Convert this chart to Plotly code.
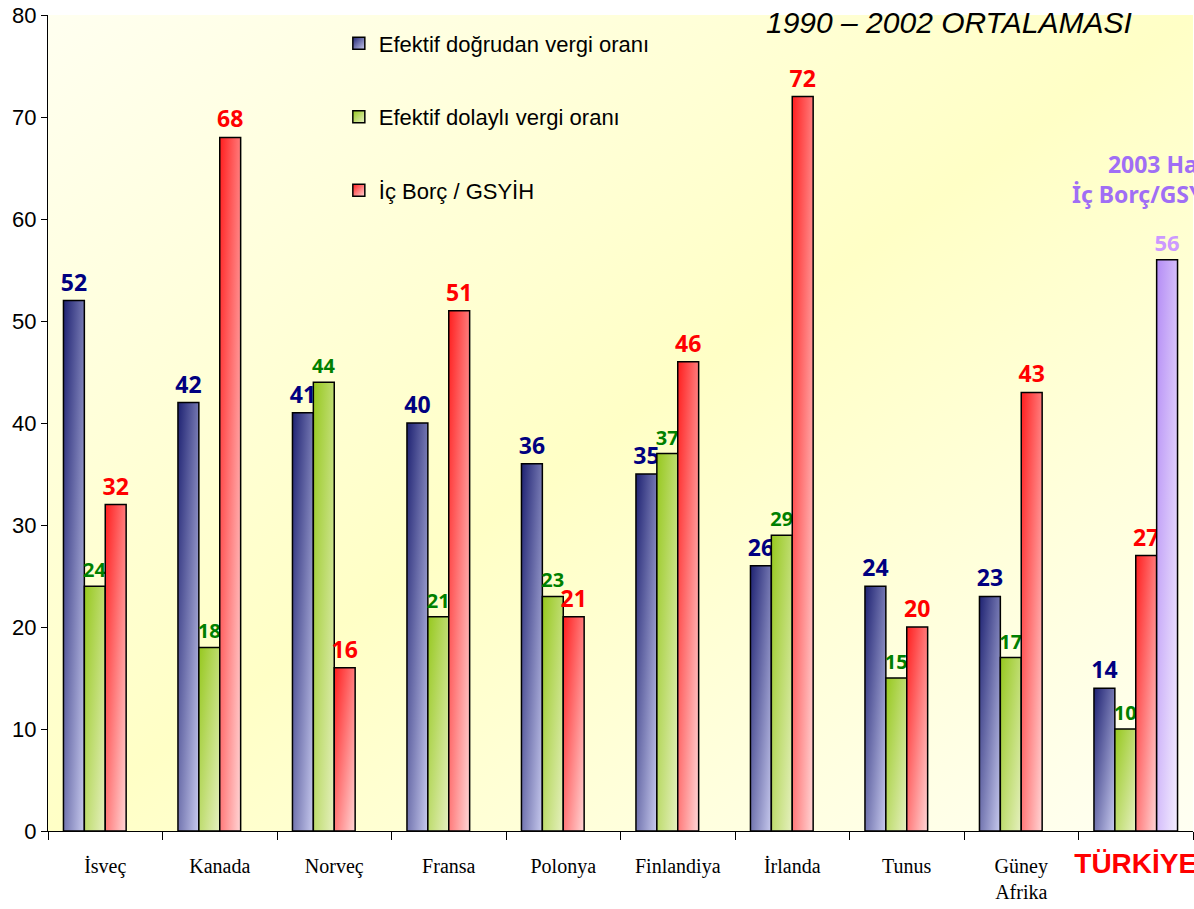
import plotly.graph_objects as go

# Countries on the category axis
countries = ["İsveç", "Kanada", "Norveç", "Fransa", "Polonya",
             "Finlandiya", "İrlanda", "Tunus", "Güney Afrika", "TÜRKİYE"]
tick_labels = ["İsveç", "Kanada", "Norveç", "Fransa", "Polonya",
               "Finlandiya", "İrlanda", "Tunus", "Güney<br>Afrika",
               "<span style='font-family:Liberation Sans;font-size:28px;color:#FF0000'><b>TÜRKİYE</b></span>"]

# 1990-2002 averages (%)
direct_tax = [52, 42, 41, 40, 36, 35, 26, 24, 23, 14]
indirect_tax = [24, 18, 44, 21, 23, 37, 29, 15, 17, 10]
domestic_debt = [32, 68, 16, 51, 21, 46, 72, 20, 43, 27]
# 2003 Treasury domestic debt / GDP, Türkiye only
debt_2003 = [None, None, None, None, None, None, None, None, None, 56]

series_names = ["Efektif doğrudan vergi oranı", "Efektif dolaylı vergi oranı", "İç Borç / GSYİH", "2003"]
series_values = [direct_tax, indirect_tax, domestic_debt, debt_2003]
fill_colors = ["#7478B4", "#BCD672", "#FF8080", "#DCC8FA"]
label_colors = ["#000080", "#008000", "#FF0000", "#CC99FF"]
label_sizes = [23, 20, 23, 22]

fig = go.Figure()
for i, (name, vals) in enumerate(zip(series_names, series_values)):
    fig.add_trace(go.Bar(
        x=countries, y=vals, name=name,
        marker=dict(color=fill_colors[i], line=dict(color="#000000", width=1.5)),
        text=[("" if v is None else str(v)) for v in vals],
        textposition="outside",
        textfont=dict(family="Noto Sans", size=label_sizes[i], color=label_colors[i], weight="bold"),
        constraintext="none",
        cliponaxis=False,
        showlegend=(i < 3),
        legendgroup=f"g{i}",
    ))

fig.update_layout(
    width=1194, height=909,
    margin=dict(l=48, r=1, t=15, b=78, autoexpand=False),
    paper_bgcolor="#FFFFFF",
    plot_bgcolor="#FFFFD6",
    barmode="group",
    bargap=0.27,
    bargroupgap=0,
    showlegend=True,
    legend=dict(
        x=0.254, y=0.991, xanchor="left", yanchor="top",
        bgcolor="rgba(0,0,0,0)",
        font=dict(family="Liberation Sans", size=22, color="#000000"),
        tracegroupgap=42,
        traceorder="grouped",
    ),
    xaxis=dict(
        tickmode="array", tickvals=countries, ticktext=tick_labels,
        tickson="boundaries", ticks="outside", ticklen=8, tickcolor="#000000",
        tickangle=0, automargin=False,
        showline=True, linecolor="#000000", linewidth=1,
        tickfont=dict(family="Liberation Serif", size=20, color="#000000"),
        ticklabelstandoff=17,
        showgrid=False,
    ),
    yaxis=dict(
        range=[0, 80], tickmode="linear", tick0=0, dtick=10,
        ticks="outside", ticklen=6, tickcolor="#000000", automargin=False,
        showline=True, linecolor="#000000", linewidth=1,
        tickfont=dict(family="Liberation Sans", size=22, color="#000000"),
        showgrid=False, zeroline=False,
    ),
    annotations=[
        dict(text="<i>1990 – 2002 ORTALAMASI</i>", xref="paper", yref="paper",
             x=0.787, y=1.0, xanchor="center", yanchor="middle", yshift=-7,
             showarrow=False, font=dict(family="Liberation Sans", size=30, color="#000000")),
        dict(text="<b>" + "&nbsp;" * 6 + "2003 Hazine<br>İç Borç/GSYİH</b>",
             xref="paper", yref="paper",
             x=0.8926, y=0.7995, xanchor="left", yanchor="middle", align="left",
             showarrow=False, font=dict(family="Noto Sans", size=23, color="#A06EF5")),
    ],
)

# Diagonal gradient fills for bars, legend swatches and plot background
gradient_js = """
var gd = document.getElementById('{plot_id}');
function applyGradients() {
  var NS = 'http://www.w3.org/2000/svg';
  var svg = gd.querySelector('svg.main-svg');
  var defs = svg.querySelector('defs');
  var specs = [
    ['gBar0', [[0, '#1E2272'], [1, '#C8CAEE']]],
    ['gBar1', [[0, '#96C81E'], [1, '#E6F0C0']]],
    ['gBar2', [[0, '#FF1E1E'], [1, '#FFD6D6']]],
    ['gBar3', [[0, '#B48CF5'], [1, '#F4EEFF']]],
    ['gBg', [[0, '#FFFFF0'], [0.5, '#FFFFC6'], [1, '#FFFFF2']]]
  ];
  specs.forEach(function (s) {
    if (document.getElementById(s[0])) return;
    var lg = document.createElementNS(NS, 'linearGradient');
    lg.setAttribute('id', s[0]);
    lg.setAttribute('x1', '0'); lg.setAttribute('y1', '0');
    lg.setAttribute('x2', '1'); lg.setAttribute('y2', '1');
    s[1].forEach(function (st) {
      var e = document.createElementNS(NS, 'stop');
      e.setAttribute('offset', st[0]);
      e.setAttribute('stop-color', st[1]);
      lg.appendChild(e);
    });
    defs.appendChild(lg);
  });
  gd.querySelectorAll('.barlayer .trace.bars').forEach(function (tr, i) {
    tr.querySelectorAll('.point path').forEach(function (p) {
      p.style.fill = 'url(#gBar' + i + ')';
    });
  });
  gd.querySelectorAll('.legend .traces').forEach(function (tr, i) {
    tr.querySelectorAll('.legendpoints path').forEach(function (p) {
      p.style.fill = 'url(#gBar' + i + ')';
    });
  });
  var bg = gd.querySelector('.bglayer rect.bg');
  if (bg) bg.style.fill = 'url(#gBg)';
}
applyGradients();
gd.on('plotly_afterplot', applyGradients);
"""

fig.write_html("out.html", post_script=gradient_js)
